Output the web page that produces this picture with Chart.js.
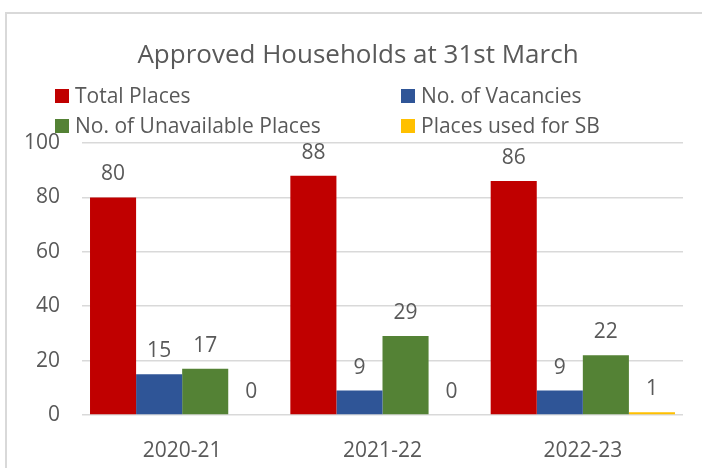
<!DOCTYPE html>
<html>
<head>
<meta charset="utf-8">
<title>Approved Households at 31st March</title>
<script src="https://cdn.jsdelivr.net/npm/chart.js@4/dist/chart.umd.min.js"></script>
<style>
  html, body { margin: 0; padding: 0; background: #fff; }
  #chart { position: absolute; left: 0; top: 0; }
</style>
</head>
<body>
<canvas id="chart" width="702" height="468"></canvas>
<script>
// chart data
const categories = ['2020-21', '2021-22', '2022-23'];
const seriesNames = ['Total Places', 'No. of Vacancies', 'No. of Unavailable Places', 'Places used for SB'];
const totalPlaces = [80, 88, 86];
const vacancies = [15, 9, 9];
const unavailablePlaces = [17, 29, 22];
const placesUsedForSB = [0, 0, 1];
const seriesColors = ['#C00000', '#2F5597', '#548235', '#FFC000'];
const titleText = 'Approved Households at 31st March';

const FONT = "'Open Sans', sans-serif";
const TEXT_COLOR = '#595959';

// frame, title, legend and value labels
const decorPlugin = {
    id: 'decor',
    beforeDraw(chart) {
        const ctx = chart.ctx;
        ctx.save();
        ctx.strokeStyle = '#d9d9d9';
        ctx.lineWidth = 2;
        ctx.strokeRect(6, 13, 800, 600);
        ctx.restore();
    },
    afterDraw(chart) {
        const ctx = chart.ctx;
        ctx.save();
        ctx.fillStyle = TEXT_COLOR;

        // title
        ctx.font = '26px ' + FONT;
        ctx.textAlign = 'center';
        ctx.textBaseline = 'alphabetic';
        ctx.fillText(titleText, 358, 63);

        // legend in two columns
        ctx.font = '21px ' + FONT;
        ctx.textAlign = 'left';
        const colX = [55, 401];
        const rowY = [89, 119];
        chart.data.datasets.forEach((ds, i) => {
            const x = colX[i % 2];
            const y = rowY[Math.floor(i / 2)];
            ctx.fillStyle = ds.backgroundColor;
            ctx.fillRect(x, y, 14, 14);
            ctx.fillStyle = TEXT_COLOR;
            ctx.fillText(ds.label, x + 20, y + 14);
        });

        // value labels above bars
        ctx.textAlign = 'center';
        chart.data.datasets.forEach((ds, i) => {
            chart.getDatasetMeta(i).data.forEach((bar, j) => {
                ctx.fillText(String(ds.data[j]), bar.x, bar.y - 17);
            });
        });
        ctx.restore();
    }
};

const ctx = document.getElementById('chart').getContext('2d');
new Chart(ctx, {
    type: 'bar',
    data: {
        labels: categories,
        datasets: [totalPlaces, vacancies, unavailablePlaces, placesUsedForSB].map((values, i) => ({
            label: seriesNames[i],
            data: values,
            backgroundColor: seriesColors[i],
            borderWidth: 0,
            categoryPercentage: 0.92,
            barPercentage: 1
        }))
    },
    options: {
        responsive: false,
        animation: false,
        layout: { padding: { top: 143, right: 19, left: 0, bottom: 0 } },
        plugins: {
            legend: { display: false },
            title: { display: false },
            tooltip: { enabled: false }
        },
        scales: {
            x: {
                grid: { display: false },
                border: { display: false },
                ticks: { color: TEXT_COLOR, font: { family: FONT, size: 21 }, padding: 15 },
                afterFit(scale) { scale.height = 53; }
            },
            y: {
                min: 0,
                max: 100,
                grid: { color: '#d9d9d9', lineWidth: 1.5, drawTicks: false },
                border: { display: false },
                ticks: { stepSize: 20, color: TEXT_COLOR, font: { family: FONT, size: 21 }, padding: 22 },
                afterFit(scale) { scale.width = 82; }
            }
        }
    },
    plugins: [decorPlugin]
});
</script>
</body>
</html>
